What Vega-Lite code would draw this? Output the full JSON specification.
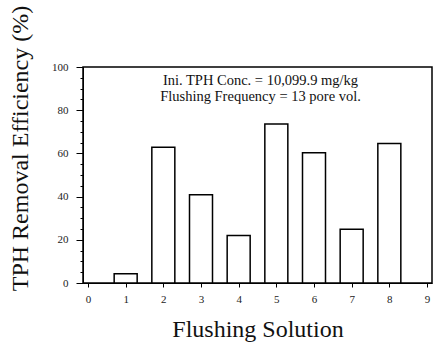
{
  "$schema": "https://vega.github.io/schema/vega-lite/v6.json",
  "width": 349,
  "height": 216,
  "autosize": {"type": "none"},
  "padding": {"left": 83, "top": 67, "right": 2, "bottom": 62},
  "background": "white",
  "config": {
    "font": "Liberation Serif",
    "view": {"stroke": "black", "strokeWidth": 1.5},
    "axis": {
      "grid": false,
      "domainColor": "black",
      "tickColor": "black",
      "labelColor": "#222",
      "labelFont": "Liberation Serif",
      "labelFontSize": 11,
      "titleFont": "Liberation Serif",
      "titleFontWeight": "normal",
      "titleColor": "#111"
    }
  },
  "data": {
    "values": [
      {"solution": 1, "efficiency": 4.3},
      {"solution": 2, "efficiency": 62.8},
      {"solution": 3, "efficiency": 40.8},
      {"solution": 4, "efficiency": 22.0},
      {"solution": 5, "efficiency": 73.6},
      {"solution": 6, "efficiency": 60.3},
      {"solution": 7, "efficiency": 24.9},
      {"solution": 8, "efficiency": 64.6}
    ]
  },
  "layer": [
    {
      "mark": {"type": "bar", "width": 23, "fill": "white", "stroke": "black", "strokeWidth": 1.5},
      "encoding": {
        "x": {
          "field": "solution",
          "type": "quantitative",
          "scale": {"domain": [0, 9], "nice": false},
          "axis": {
            "values": [0, 1, 2, 3, 4, 5, 6, 7, 8, 9],
            "title": "Flushing Solution",
            "titleFontSize": 24,
            "titlePadding": 13,
            "tickSize": 4,
            "labelPadding": 6,
            "labelFlush": false,
            "labelOverlap": false
          }
        },
        "y": {
          "field": "efficiency",
          "type": "quantitative",
          "scale": {"domain": [0, 100], "nice": false},
          "axis": {
            "values": [0, 5, 10, 15, 20, 25, 30, 35, 40, 45, 50, 55, 60, 65, 70, 75, 80, 85, 90, 95, 100],
            "labelExpr": "datum.value % 20 === 0 ? datum.label : ''",
            "labelOverlap": false,
            "tickSize": {"expr": "datum.value % 20 === 0 ? 7 : 3"},
            "title": "TPH Removal Efficiency (%)",
            "titleFontSize": 24,
            "titleX": -51,
            "titleY": 81,
            "labelPadding": 8
          }
        }
      }
    },
    {
      "data": {
        "values": [
          {"label": "Ini. TPH Conc. = 10,099.9 mg/kg", "x": 4.58, "y": 93.5},
          {"label": "Flushing Frequency = 13 pore vol.", "x": 4.58, "y": 86.3}
        ]
      },
      "mark": {"type": "text", "fontSize": 14.5, "font": "Liberation Serif", "color": "#111"},
      "encoding": {
        "x": {
          "field": "x",
          "type": "quantitative",
          "scale": {"domain": [0, 9], "nice": false},
          "axis": {
            "values": [0, 1, 2, 3, 4, 5, 6, 7, 8, 9],
            "title": "Flushing Solution",
            "titleFontSize": 24,
            "titlePadding": 13,
            "tickSize": 4,
            "labelPadding": 6,
            "labelFlush": false,
            "labelOverlap": false
          }
        },
        "y": {
          "field": "y",
          "type": "quantitative",
          "scale": {"domain": [0, 100], "nice": false},
          "axis": {
            "values": [0, 5, 10, 15, 20, 25, 30, 35, 40, 45, 50, 55, 60, 65, 70, 75, 80, 85, 90, 95, 100],
            "labelExpr": "datum.value % 20 === 0 ? datum.label : ''",
            "labelOverlap": false,
            "tickSize": {"expr": "datum.value % 20 === 0 ? 7 : 3"},
            "title": "TPH Removal Efficiency (%)",
            "titleFontSize": 24,
            "titleX": -51,
            "titleY": 81,
            "labelPadding": 8
          }
        },
        "text": {"field": "label"}
      }
    }
  ]
}
